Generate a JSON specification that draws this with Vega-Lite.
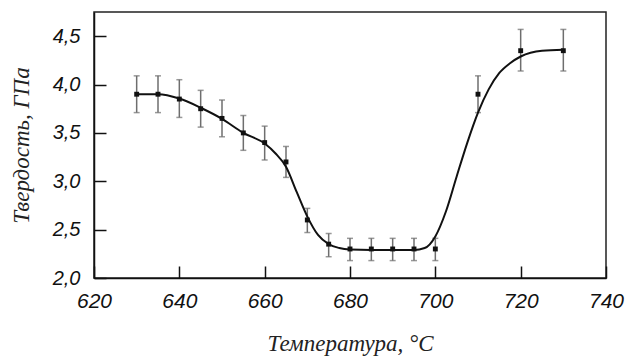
{
  "$schema": "https://vega.github.io/schema/vega-lite/v6.json",
  "autosize": {"type": "none"},
  "width": 512,
  "height": 266,
  "padding": {"left": 94, "top": 12, "right": 19, "bottom": 79},
  "background": "white",
  "config": {
    "view": {"stroke": "#222", "strokeWidth": 1.5},
    "axis": {
      "grid": false,
      "domainColor": "#111",
      "domainWidth": 1.5,
      "tickColor": "#111",
      "tickWidth": 1.5,
      "tickSize": -12,
      "labelFlush": false,
      "labelOverlap": false,
      "labelFont": "Liberation Sans",
      "labelFontStyle": "italic",
      "labelColor": "#111",
      "titleFont": "Liberation Serif",
      "titleFontStyle": "italic",
      "titleFontWeight": "normal",
      "titleColor": "#222",
      "titleFontSize": 23
    }
  },
  "datasets": {
    "pts": [
      {"t": 630, "h": 3.9, "lo": 3.71, "hi": 4.09},
      {"t": 635, "h": 3.9, "lo": 3.71, "hi": 4.09},
      {"t": 640, "h": 3.85, "lo": 3.66, "hi": 4.05},
      {"t": 645, "h": 3.75, "lo": 3.56, "hi": 3.94},
      {"t": 650, "h": 3.65, "lo": 3.46, "hi": 3.84},
      {"t": 655, "h": 3.5, "lo": 3.32, "hi": 3.68},
      {"t": 660, "h": 3.4, "lo": 3.22, "hi": 3.57},
      {"t": 665, "h": 3.2, "lo": 3.04, "hi": 3.36},
      {"t": 670, "h": 2.6, "lo": 2.47, "hi": 2.72},
      {"t": 675, "h": 2.35, "lo": 2.22, "hi": 2.46},
      {"t": 680, "h": 2.3, "lo": 2.18, "hi": 2.41},
      {"t": 685, "h": 2.3, "lo": 2.18, "hi": 2.41},
      {"t": 690, "h": 2.3, "lo": 2.18, "hi": 2.41},
      {"t": 695, "h": 2.3, "lo": 2.18, "hi": 2.41},
      {"t": 700, "h": 2.3, "lo": 2.18, "hi": 2.41},
      {"t": 710, "h": 3.9, "lo": 3.71, "hi": 4.09},
      {"t": 720, "h": 4.35, "lo": 4.14, "hi": 4.57},
      {"t": 730, "h": 4.35, "lo": 4.14, "hi": 4.57}
    ],
    "curve": [
      {"t": 630, "h": 3.9}, {"t": 635, "h": 3.9}, {"t": 640, "h": 3.855},
      {"t": 645, "h": 3.76}, {"t": 650, "h": 3.645}, {"t": 655, "h": 3.5},
      {"t": 660, "h": 3.39}, {"t": 662.5, "h": 3.29}, {"t": 665, "h": 3.15},
      {"t": 667.5, "h": 2.89}, {"t": 670, "h": 2.635}, {"t": 672.5, "h": 2.445},
      {"t": 675, "h": 2.35}, {"t": 677.5, "h": 2.31}, {"t": 680, "h": 2.295},
      {"t": 685, "h": 2.29}, {"t": 690, "h": 2.29}, {"t": 695, "h": 2.29},
      {"t": 697.5, "h": 2.31}, {"t": 700, "h": 2.43}, {"t": 702.5, "h": 2.69},
      {"t": 705, "h": 3.05}, {"t": 707.5, "h": 3.4}, {"t": 710, "h": 3.71},
      {"t": 712.5, "h": 3.95}, {"t": 715, "h": 4.12}, {"t": 717.5, "h": 4.22},
      {"t": 720, "h": 4.29}, {"t": 725, "h": 4.35}, {"t": 730, "h": 4.36}
    ]
  },
  "layer": [
    {
      "data": {"name": "pts"},
      "mark": {"type": "rule", "color": "#6e6e6e", "strokeWidth": 1.5},
      "encoding": {
        "x": {"field": "t", "type": "quantitative",
          "scale": {"domain": [620, 740], "nice": false, "zero": false},
          "axis": {"values": [620, 640, 660, 680, 700, 720, 740], "labelFontSize": 21, "labelPadding": 24,
            "title": "Температура, °C", "titleBaseline": "alphabetic", "titleY": 72, "titleX": 256}},
        "y": {"field": "lo", "type": "quantitative",
          "scale": {"domain": [2, 4.75], "nice": false, "zero": false},
          "axis": {"values": [2, 2.5, 3, 3.5, 4, 4.5], "labelFontSize": 20, "labelPadding": 26,
            "labelExpr": "replace(format(datum.value, '.1f'), '.', ',')",
            "title": "Твердость, ГПа", "titleBaseline": "alphabetic", "titleX": -66, "titleY": 133, "titleAngle": -90}},
        "y2": {"field": "hi"}
      }
    },
    {
      "data": {"name": "pts"},
      "mark": {"type": "tick", "orient": "horizontal", "size": 6, "thickness": 1.5, "color": "#6e6e6e"},
      "encoding": {
        "x": {"field": "t", "type": "quantitative"},
        "y": {"field": "lo", "type": "quantitative"}
      }
    },
    {
      "data": {"name": "pts"},
      "mark": {"type": "tick", "orient": "horizontal", "size": 6, "thickness": 1.5, "color": "#6e6e6e"},
      "encoding": {
        "x": {"field": "t", "type": "quantitative"},
        "y": {"field": "hi", "type": "quantitative"}
      }
    },
    {
      "data": {"name": "curve"},
      "mark": {"type": "line", "interpolate": "monotone", "color": "#111", "strokeWidth": 2},
      "encoding": {
        "x": {"field": "t", "type": "quantitative"},
        "y": {"field": "h", "type": "quantitative"}
      }
    },
    {
      "data": {"name": "pts"},
      "mark": {"type": "square", "size": 24, "color": "#111", "opacity": 1, "filled": true},
      "encoding": {
        "x": {"field": "t", "type": "quantitative"},
        "y": {"field": "h", "type": "quantitative"}
      }
    }
  ]
}
